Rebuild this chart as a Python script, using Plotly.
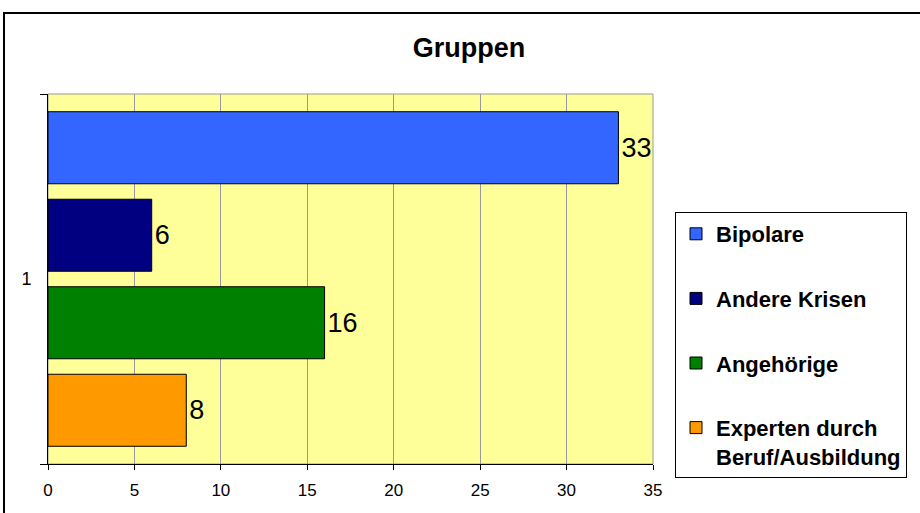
import plotly.graph_objects as go

categories = ["1"]
series_names = ["Bipolare", "Andere Krisen", "Angehörige", "Experten durch<br>Beruf/Ausbildung"]
series_values = [33, 6, 16, 8]
series_colors = ["#3366FF", "#000080", "#008000", "#FF9900"]
x_ticks = [0, 5, 10, 15, 20, 25, 30, 35]

FONT = "Arial, Liberation Sans, sans-serif"

fig = go.Figure()
for i, (name, val, col) in enumerate(zip(series_names, series_values, series_colors)):
    fig.add_trace(go.Bar(
        y=categories, x=[val], name=name, orientation="h",
        marker=dict(color=col, line=dict(color="black", width=1)),
        text=[str(val)], textposition="outside",
        textfont=dict(family=FONT, size=27, color="black"),
        legendgroup=f"g{i}", cliponaxis=False,
    ))

fig.update_layout(
    width=920, height=513,
    margin=dict(l=48, r=267, t=94, b=49),
    paper_bgcolor="white", plot_bgcolor="#FFFF99",
    barmode="group", bargap=0.054, bargroupgap=0.177,
    title=dict(text="<b>Gruppen</b>", x=469/920, xanchor="center", y=1 - 48/513, yanchor="middle",
               font=dict(family=FONT, size=27, color="black")),
    font=dict(family=FONT, color="black"),
    xaxis=dict(range=[0, 35], tickvals=x_ticks, showgrid=True, gridcolor="#999999", gridwidth=1,
               showline=True, linecolor="black", linewidth=1, ticks="outside", ticklen=5,
               tickcolor="black", ticklabelstandoff=6,
               tickfont=dict(family=FONT, size=17, color="black"), zeroline=False,
               mirror=False),
    yaxis=dict(type="category", autorange="reversed", showline=True, linecolor="black", linewidth=1,
               ticks="outside", ticklen=7, tickcolor="black", tickson="boundaries",
               ticklabelstandoff=12,
               tickfont=dict(family=FONT, size=18, color="black"), showgrid=False),
    legend=dict(x=(675 - 48) / 605, xanchor="left", y=(464 - 212) / 370, yanchor="top",
                bordercolor="black", borderwidth=1, bgcolor="white",
                font=dict(family=FONT, size=22, color="black", weight="bold"),
                traceorder="grouped", tracegroupgap=33, valign="top"),
    showlegend=True,
)

# plot area gray border (top/right)
fig.add_shape(type="rect", xref="paper", yref="paper", x0=0, x1=1, y0=0, y1=1,
              line=dict(color="#999999", width=1), layer="below")
# outer chart border
fig.add_shape(type="rect", xref="paper", yref="paper",
              x0=(4 - 48) / 605, x1=(925 - 48) / 605, y0=(464 - 520) / 370, y1=(464 - 13) / 370,
              line=dict(color="black", width=2), layer="above")

fig.write_html("out.html", config={"displayModeBar": False},
               post_script="document.body.style.margin='0';document.body.style.overflow='hidden';")
